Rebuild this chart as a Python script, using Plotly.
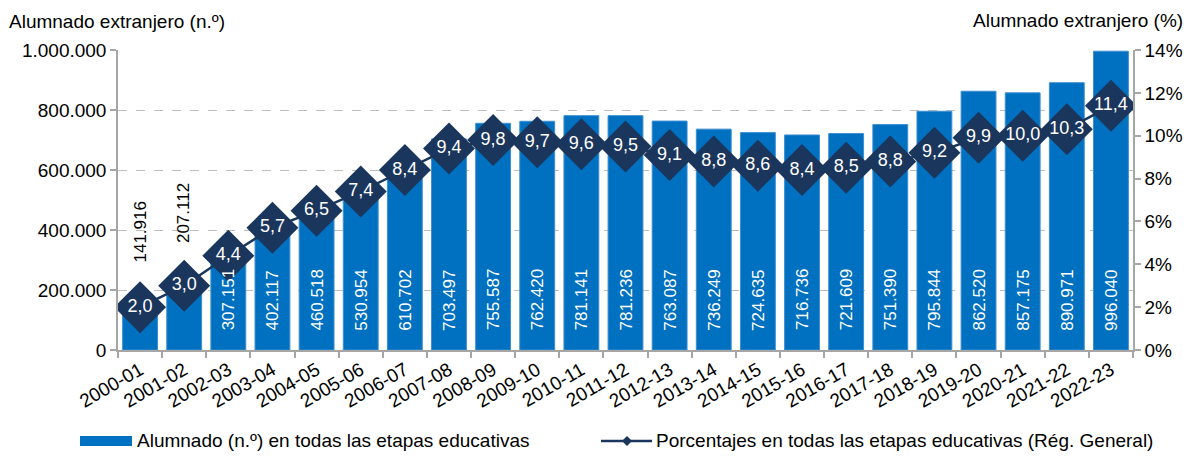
import plotly.graph_objects as go

categories = ["2000-01", "2001-02", "2002-03", "2003-04", "2004-05", "2005-06", "2006-07",
              "2007-08", "2008-09", "2009-10", "2010-11", "2011-12", "2012-13", "2013-14",
              "2014-15", "2015-16", "2016-17", "2017-18", "2018-19", "2019-20", "2020-21",
              "2021-22", "2022-23"]
alumnado = [141916, 207112, 307151, 402117, 460518, 530954, 610702, 703497, 755587, 762420,
            781141, 781236, 763087, 736249, 724635, 716736, 721609, 751390, 795844, 862520,
            857175, 890971, 996040]
porcentaje = [2.0, 3.0, 4.4, 5.7, 6.5, 7.4, 8.4, 9.4, 9.8, 9.7, 9.6, 9.5, 9.1, 8.8, 8.6, 8.4,
              8.5, 8.8, 9.2, 9.9, 10.0, 10.3, 11.4]
left_ticks = [0, 200000, 400000, 600000, 800000, 1000000]
right_ticks = [0, 2, 4, 6, 8, 10, 12, 14]

BAR = "#0070C0"
NAVY = "#1B365D"
FONT = "Liberation Sans, Arial, sans-serif"
FS = 19      # axis / legend text
FS_BAR = 17  # bar value labels
FS_PCT = 18  # percentage labels

def fmt_int(v):
    return f"{v:,}".replace(",", ".")

OFF = 8  # page body margin
SW, SH = 1192, 457
W, H = SW - OFF, SH - OFF
# plot area in screen pixels
PL, PR, PT, PB = 118, 1133, 50, 350
ML, MT = PL - OFF, PT - OFF
MR, MB = W - (PR - OFF), H - (PB - OFF)
PW, PH = PR - PL, PB - PT

fig = go.Figure()
fig.add_trace(go.Bar(x=categories, y=alumnado,
                     marker=dict(color=BAR, line=dict(width=1, color="#3D8FD1")),
                     name="Alumnado (n.º) en todas las etapas educativas", showlegend=False,
                     hoverinfo="x+y"))
fig.add_trace(go.Scatter(x=categories, y=porcentaje, yaxis="y2", mode="lines+markers+text",
                         line=dict(color=NAVY, width=2.5),
                         marker=dict(symbol="diamond", size=40, color=NAVY),
                         text=[f"{p:.1f}".replace(".", ",") for p in porcentaje],
                         textposition="middle center",
                         textfont=dict(color="white", size=FS_PCT, family=FONT),
                         name="Porcentajes en todas las etapas educativas (Rég. General)",
                         showlegend=False))

annotations = []
for i, (c, v) in enumerate(zip(categories, alumnado)):
    if i < 2:
        annotations.append(dict(x=c, y=v, xref="x", yref="y", text=fmt_int(v), textangle=-90,
                                showarrow=False, yanchor="middle", yshift=75,
                                font=dict(color="black", size=FS_BAR, family=FONT)))
    else:
        annotations.append(dict(x=c, y=0, xref="x", yref="y", text=fmt_int(v), textangle=-90,
                                showarrow=False, yanchor="middle", yshift=50,
                                font=dict(color="white", size=FS_BAR, family=FONT)))

def px(x):
    return (x - PL) / PW

def py(y):
    return (PB - y) / PH

# axis titles
annotations.append(dict(x=px(7), y=py(9), xref="paper", yref="paper", text="Alumnado extranjero (n.º)",
                        showarrow=False, xanchor="left", yanchor="top",
                        font=dict(color="black", size=FS, family=FONT)))
annotations.append(dict(x=px(1185), y=py(8), xref="paper", yref="paper", text="Alumnado extranjero (%)",
                        showarrow=False, xanchor="right", yanchor="top",
                        font=dict(color="black", size=FS, family=FONT)))
# legend texts
annotations.append(dict(x=px(135), y=py(441), xref="paper", yref="paper",
                        text="Alumnado (n.º) en todas las etapas educativas",
                        showarrow=False, xanchor="left", yanchor="middle",
                        font=dict(color="black", size=FS, family=FONT)))
annotations.append(dict(x=px(654), y=py(441), xref="paper", yref="paper",
                        text="Porcentajes en todas las etapas educativas (Rég. General)",
                        showarrow=False, xanchor="left", yanchor="middle",
                        font=dict(color="black", size=FS, family=FONT)))

shapes = [
    dict(type="rect", xref="paper", yref="paper", x0=px(80), x1=px(132), y0=py(446), y1=py(436),
         fillcolor=BAR, line=dict(width=0)),
    dict(type="line", xref="paper", yref="paper", x0=px(601), x1=px(652), y0=py(441), y1=py(441),
         line=dict(color=NAVY, width=2.5)),
    dict(type="path", xref="paper", yref="paper",
         path=f"M {px(622)} {py(441)} L {px(627)} {py(436)} L {px(632)} {py(441)} L {px(627)} {py(446)} Z",
         fillcolor=NAVY, line=dict(width=0)),
]

fig.update_layout(
    width=W, height=H,
    margin=dict(l=ML, r=MR, t=MT, b=MB, pad=0, autoexpand=False),
    paper_bgcolor="white", plot_bgcolor="white",
    separators=",.",
    bargap=0.21,
    font=dict(family=FONT, size=FS, color="black"),
    xaxis=dict(type="category", range=[-0.5, len(categories) - 0.5], tickangle=-30, ticks="outside",
               ticklen=6, tickcolor="#A6A6A6",
               tickwidth=1.5, tickson="boundaries", showline=True, linecolor="#A6A6A6", linewidth=1.5,
               showgrid=False, tickfont=dict(size=FS, color="black")),
    yaxis=dict(range=[0, 1000000], tickvals=left_ticks, ticktext=[fmt_int(t) for t in left_ticks],
               ticks="outside", ticklen=6,
               tickcolor="#A6A6A6", tickwidth=1.5, showline=True, linecolor="#A6A6A6", linewidth=1.5,
               showgrid=True, gridcolor="#BFBFBF", griddash="dash", gridwidth=1, zeroline=False,
               tickfont=dict(size=FS, color="black")),
    yaxis2=dict(range=[0, 14], tickvals=right_ticks, ticktext=[f"{t}%" for t in right_ticks],
                overlaying="y", side="right",
                ticks="outside", ticklen=6, tickcolor="#A6A6A6", tickwidth=1.5, showline=True,
                linecolor="#A6A6A6", linewidth=1.5, showgrid=False, zeroline=False,
                tickfont=dict(size=FS, color="black")),
    annotations=annotations,
    shapes=shapes,
    showlegend=False,
)

fig.write_html("out.html")
